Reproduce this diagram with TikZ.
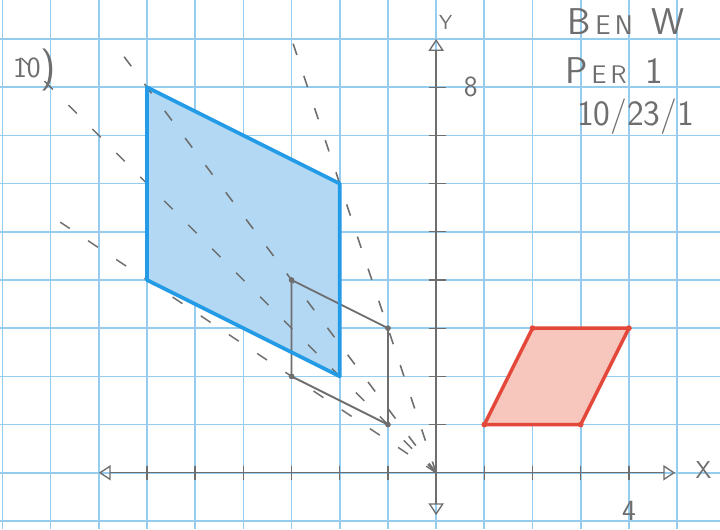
\documentclass[tikz,border=0pt]{standalone}
\usepackage{tikz}
\usetikzlibrary{arrows.meta,calc}

\definecolor{pencil}{RGB}{110,110,110}
\definecolor{gridblue}{RGB}{150,205,238}
\definecolor{crayonblue}{RGB}{35,155,230}
\definecolor{lightblue}{RGB}{178,216,243}
\definecolor{crayonred}{RGB}{228,72,58}
\definecolor{lightred}{RGB}{247,198,188}

\begin{document}
\begin{tikzpicture}[>={Triangle[open,length=7pt,width=9pt]},
    gridline/.style={gridblue, line width=1pt},
    lead/.style={draw=pencil, line width=0.8pt},
    ray/.style={draw=pencil, line width=0.9pt, dash pattern=on 7pt off 13pt},
    hand/.style={text=pencil, font=\sffamily\LARGE},
    vdot/.style={circle, fill, inner sep=1.2pt}]
    \useasboundingbox (-9.05,-1.17) rectangle (5.89,9.81);
    \fill[white] (-9.05,-1.17) rectangle (5.89,9.81);
    \draw[gridline] (-9.05,-1.17) grid (5.89,9.81);

    % vertices
    \coordinate (O) at (0,0);
    \coordinate (b1) at (-6,8);
    \coordinate (b2) at (-2,6);
    \coordinate (b3) at (-2,2);
    \coordinate (b4) at (-6,4);
    \coordinate (g1) at (-3,4);
    \coordinate (g2) at (-1,3);
    \coordinate (g3) at (-1,1);
    \coordinate (g4) at (-3,2);
    \coordinate (r1) at (1,1);
    \coordinate (r2) at (3,1);
    \coordinate (r3) at (4,3);
    \coordinate (r4) at (2,3);

    % shaded figures
    \fill[lightblue] (b1) -- (b2) -- (b3) -- (b4) -- cycle;
    \fill[lightred] (r1) -- (r2) -- (r3) -- (r4) -- cycle;

    % axes
    \coordinate (xmin) at (-7,0);
    \coordinate (xmax) at (4.96,0);
    \coordinate (ymin) at (0,-0.88);
    \coordinate (ymax) at (0,9);
    \draw[lead, <->] (xmin) -- (xmax);
    \draw[lead, <->] (ymin) -- (ymax);
    \foreach \i in {-6,...,-1,1,2,3,4}
        \draw[lead] (\i,-0.15) -- (\i,0.15);
    \foreach \j in {1,...,8}
        \draw[lead] (-0.15,\j) -- (0.2,\j);

    % rays from the centre
    \draw[ray] (O) -- ($(O)!1.12!(b1)$);
    \draw[ray] (O) -- ($(O)!1.5!(b2)$);
    \draw[ray] (O) -- ($(O)!4.3!(b3)$);
    \draw[ray] (O) -- ($(O)!1.3!(b4)$);

    % original and images
    \draw[lead, line width=1.1pt] (g1) -- (g2) -- (g3) -- (g4) -- cycle;
    \foreach \p in {g1,g2,g3,g4}
        \node[vdot, fill=pencil] at (\p) {};
    \draw[crayonblue, line width=2.2pt, line join=round] (b1) -- (b2) -- (b3) -- (b4) -- cycle;
    \draw[crayonred, line width=2pt, line join=round] (r1) -- (r2) -- (r3) -- (r4) -- cycle;
    \foreach \p in {r1,r2,r3,r4}
        \node[vdot, fill=crayonred] at (\p) {};

    % labels
    \node[hand, font=\sffamily\large] (ylab) at (0.2,9.35) {Y};
    \node[hand, font=\sffamily\Large] (xlab) at (5.55,0.05) {X};
    \node[hand] (eight) at (0.72,8.0) {8};
    \node[hand] (four) at (4,-0.8) {4};
    \node[hand, font=\sffamily\LARGE] (num) at (-8.33,8.35) {10\raisebox{-2pt}{\Huge)}};
    \node[hand, anchor=west, font=\sffamily\fontsize{22}{22}\selectfont] (name) at (2.6,9.36)
        {B{\fontsize{16}{16}\selectfont\,E\,N}\enspace W};
    \node[hand, anchor=west, font=\sffamily\fontsize{22}{22}\selectfont] (per) at (2.55,8.35)
        {P{\fontsize{15}{15}\selectfont\,E\,R}\enspace 1};
    \node[hand, anchor=west, font=\sffamily\fontsize{21}{21}\selectfont] (date) at (2.8,7.4)
        {10/23/1};
\end{tikzpicture}
\end{document}
